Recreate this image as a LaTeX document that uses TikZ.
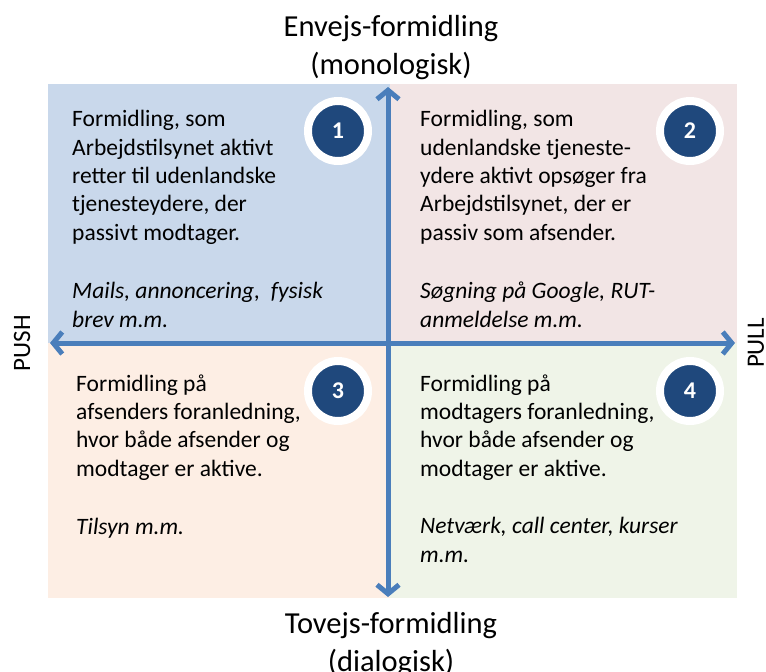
\documentclass[tikz,border=0pt]{standalone}
\usepackage{fontspec}
\setmainfont{Carlito}
\usetikzlibrary{arrows.meta}
\definecolor{qblue}{HTML}{C9D8EB}
\definecolor{qpink}{HTML}{F2E5E5}
\definecolor{qpeach}{HTML}{FDEEE4}
\definecolor{qgreen}{HTML}{EFF4E8}
\definecolor{axisblue}{HTML}{4A7EBB}
\definecolor{navy}{HTML}{1F487C}
\tikzset{
  body/.style={anchor=base west, inner sep=0pt, align=left, font=\fontsize{23.5}{28.3}\selectfont},
  note/.style={body, font=\fontsize{23.5}{28.3}\selectfont\itshape},
  heading/.style={inner sep=0pt, align=center, font=\fontsize{30.5}{38}\selectfont},
  side/.style={inner sep=0pt, rotate=90, font=\fontsize{25}{30}\selectfont},
  badge/.style={circle, fill=navy, draw=white, line width=8pt, minimum size=60pt, inner sep=0pt,
    text=white, font=\fontsize{24}{28}\selectfont\bfseries},
  axis/.style={draw=axisblue, line width=5pt, {Straight Barb[length=9pt,width=22pt,line width=5pt]}-{Straight Barb[length=9pt,width=22pt,line width=5pt]}}
}
\begin{document}
\begin{tikzpicture}[x=1pt, y=-1pt]
\useasboundingbox (0,0) rectangle (766,672);
% quadrant backgrounds
\fill[qblue]  (48,84)  rectangle (390,343);
\fill[qpink]  (390,84) rectangle (737,343);
\fill[qpeach] (48,343) rectangle (390,598);
\fill[qgreen] (390,343) rectangle (737,598);

% axis end points
\coordinate (top) at (388,87);
\coordinate (bottom) at (388,597);
\coordinate (left) at (50,343);
\coordinate (right) at (735,343);
\draw[axis] (top) -- (bottom);
\draw[axis] (left) -- (right);

% axis labels
\node[heading] (hdtop) at (391,48) {Envejs-formidling\\(monologisk)};
\node[heading] (hdbot) at (391,645) {Tovejs-formidling\\(dialogisk)};
\node[side] (push) at (22,343) {PUSH};
\node[side] (pull) at (756,343) {PULL};

% numbered badges
\node[badge] (b1) at (338,131) {1};
\node[badge] (b2) at (690,131) {2};
\node[badge] (b3) at (338,391) {3};
\node[badge] (b4) at (690,391) {4};

% quadrant texts (anchored at the baseline of their last line)
\node[body] (t1) at (72,240) {Formidling, som\\Arbejdstilsynet aktivt\\retter til udenlandske\\tjenesteydere, der\\passivt modtager.};
\node[note] (n1) at (72,327) {Mails, annoncering,\ \ fysisk\\brev m.m.};
\node[body] (t2) at (420,240) {Formidling, som\\udenlandske tjeneste-\\ydere aktivt opsøger fra\\Arbejdstilsynet, der er\\passiv som afsender.};
\node[note] (n2) at (420,327) {Søgning på Google, RUT-\\anmeldelse m.m.};
\node[body] (t3) at (76,476) {Formidling på\\afsenders foranledning,\\hvor både afsender og\\modtager er aktive.};
\node[note] (n3) at (76,534) {Tilsyn m.m.};
\node[body] (t4) at (420,476) {Formidling på\\modtagers foranledning,\\hvor både afsender og\\modtager er aktive.};
\node[note] (n4) at (420,562) {Netværk, call center, kurser\\m.m.};
\end{tikzpicture}
\end{document}
